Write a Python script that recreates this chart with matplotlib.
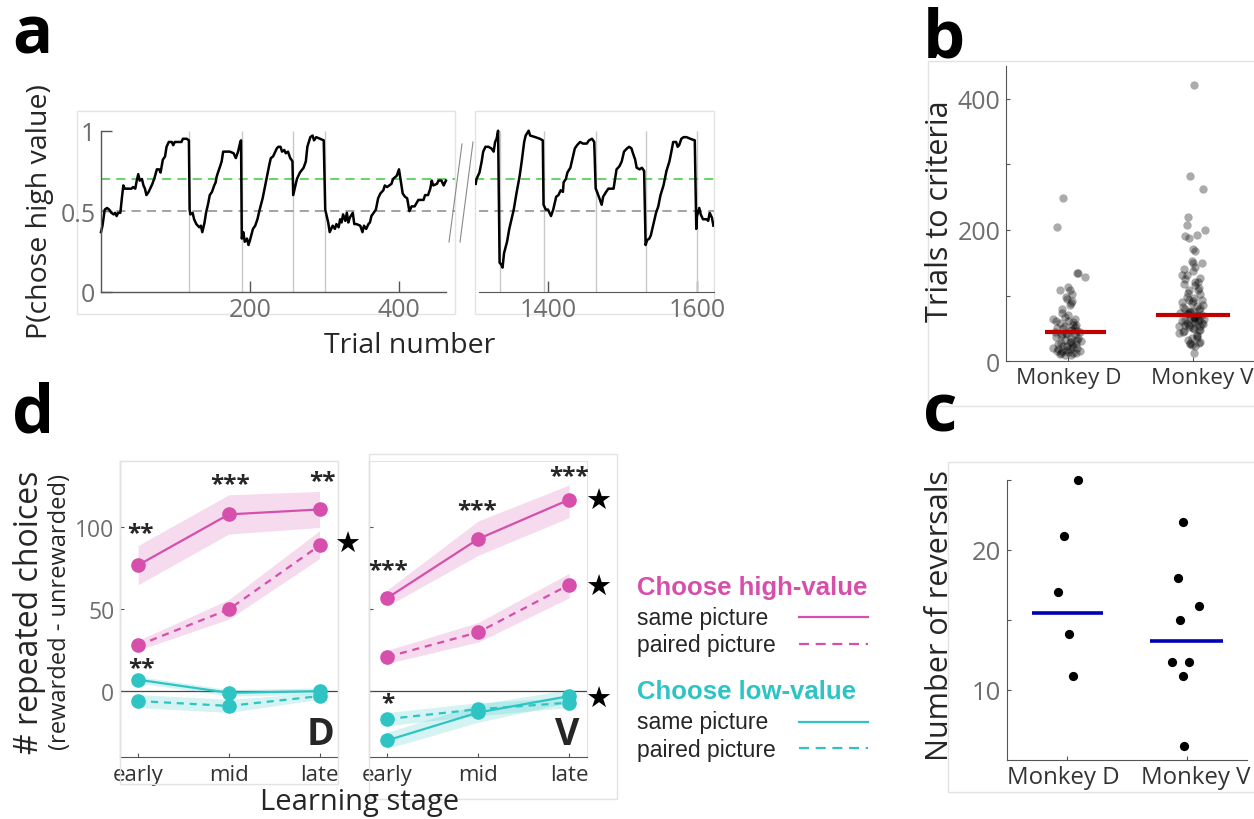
import matplotlib
matplotlib.use("Agg")
import matplotlib.pyplot as plt
import matplotlib.transforms as mtransforms
from matplotlib.patches import Rectangle
from matplotlib.lines import Line2D

plt.rcParams['font.family'] = ['Open Sans', 'DejaVu Sans']

W, H = 1254, 820
fig = plt.figure(figsize=(W / 100, H / 100), dpi=100)

# ---------------- data ----------------
# panel a: running P(chose high value), early block
early_trial = [0, 2, 5, 8, 11, 14, 17, 19, 21, 23, 26, 28, 30, 32, 41, 43, 46, 48, 50, 52, 55, 57, 59, 61, 64, 66,
               69, 72, 75, 78, 80, 83, 86, 88, 91, 95, 97, 99, 108, 110, 115, 118, 119, 120, 123, 125, 128, 132, 134,
               136, 139, 141, 144, 146, 149, 152, 154, 155, 157, 160, 162, 164, 169, 173, 178, 181, 184, 187, 188,
               189, 191, 193, 196, 198, 200, 204, 207, 210, 213, 217, 220, 223, 226, 228, 231, 234, 236, 238, 241,
               243, 246, 248, 251, 254, 257, 258, 260, 263, 267, 272, 275, 277, 281, 284, 286, 289, 294, 299, 301,
               303, 305, 307, 311, 314, 316, 319, 321, 323, 325, 328, 330, 332, 334, 338, 340, 343, 348, 351, 353,
               356, 359, 361, 363, 366, 369, 372, 375, 379, 381, 384, 387, 390, 392, 397, 400, 402, 405, 408, 411,
               414, 417, 421, 426, 433, 435, 439, 442, 444, 446, 451, 453, 457, 460, 463]
early_p = [0.37, 0.41, 0.51, 0.52, 0.51, 0.49, 0.48, 0.49, 0.47, 0.49, 0.49, 0.58, 0.66, 0.64, 0.64, 0.65, 0.64,
           0.69, 0.73, 0.69, 0.70, 0.66, 0.64, 0.60, 0.62, 0.64, 0.67, 0.71, 0.76, 0.76, 0.74, 0.82, 0.84, 0.90,
           0.93, 0.93, 0.91, 0.93, 0.93, 0.95, 0.95, 0.94, 0.51, 0.48, 0.49, 0.45, 0.42, 0.40, 0.41, 0.37, 0.43,
           0.49, 0.55, 0.60, 0.62, 0.66, 0.68, 0.71, 0.74, 0.78, 0.81, 0.87, 0.87, 0.87, 0.86, 0.83, 0.87, 0.93,
           0.94, 0.33, 0.37, 0.31, 0.33, 0.29, 0.32, 0.39, 0.41, 0.45, 0.51, 0.58, 0.65, 0.72, 0.79, 0.83, 0.84,
           0.87, 0.89, 0.90, 0.90, 0.87, 0.88, 0.86, 0.87, 0.83, 0.81, 0.60, 0.64, 0.70, 0.74, 0.77, 0.81, 0.90,
           0.96, 0.97, 0.94, 0.96, 0.95, 0.94, 0.51, 0.47, 0.43, 0.37, 0.41, 0.39, 0.42, 0.40, 0.45, 0.43, 0.48,
           0.44, 0.49, 0.43, 0.46, 0.49, 0.42, 0.42, 0.41, 0.37, 0.41, 0.39, 0.42, 0.43, 0.47, 0.49, 0.51, 0.58,
           0.61, 0.63, 0.66, 0.65, 0.66, 0.67, 0.70, 0.72, 0.76, 0.70, 0.61, 0.59, 0.58, 0.50, 0.53, 0.53, 0.57,
           0.57, 0.60, 0.60, 0.64, 0.69, 0.66, 0.67, 0.69, 0.69, 0.66, 0.69]
early_reversals = [118.5, 189, 258, 301]

# panel a: late block
late_trial = [1303, 1304, 1308, 1311, 1313, 1316, 1320, 1324, 1327, 1329, 1331, 1333, 1335, 1337, 1339, 1341, 1345,
              1348, 1351, 1354, 1358, 1362, 1365, 1368, 1370, 1374, 1376, 1383, 1389, 1393, 1394, 1397, 1400, 1404,
              1407, 1411, 1414, 1417, 1420, 1421, 1424, 1426, 1430, 1433, 1436, 1439, 1443, 1447, 1452, 1455, 1459,
              1462, 1464, 1465, 1469, 1472, 1474, 1478, 1481, 1488, 1490, 1492, 1496, 1499, 1502, 1506, 1509, 1512,
              1514, 1517, 1519, 1523, 1526, 1529, 1531, 1533, 1536, 1538, 1541, 1545, 1548, 1551, 1555, 1559, 1563,
              1566, 1568, 1572, 1574, 1576, 1579, 1582, 1586, 1591, 1597, 1599, 1600, 1603, 1605, 1608, 1613, 1615,
              1617, 1620, 1622]
late_p = [0.67, 0.70, 0.74, 0.81, 0.87, 0.90, 0.90, 0.89, 0.87, 0.93, 0.95, 1.00, 0.18, 0.17, 0.15, 0.24, 0.31,
          0.39, 0.45, 0.51, 0.62, 0.72, 0.82, 0.93, 0.97, 1.00, 0.97, 0.96, 0.95, 0.94, 0.54, 0.51, 0.51, 0.47,
          0.51, 0.59, 0.60, 0.63, 0.62, 0.68, 0.70, 0.74, 0.77, 0.83, 0.89, 0.91, 0.93, 0.92, 0.92, 0.94, 0.95,
          0.93, 0.64, 0.63, 0.58, 0.54, 0.59, 0.62, 0.64, 0.64, 0.70, 0.76, 0.78, 0.81, 0.87, 0.89, 0.90, 0.89,
          0.86, 0.82, 0.77, 0.76, 0.77, 0.75, 0.29, 0.32, 0.33, 0.35, 0.41, 0.49, 0.53, 0.60, 0.66, 0.75, 0.81,
          0.88, 0.93, 0.93, 0.90, 0.91, 0.95, 0.96, 0.96, 0.95, 0.94, 0.39, 0.47, 0.52, 0.48, 0.45, 0.45, 0.44,
          0.49, 0.46, 0.41]
late_reversals = [1335, 1394, 1464, 1531, 1600]
criterion = 0.7
chance = 0.5

# panel b: trials to criterion per block
monkeys = ['Monkey D', 'Monkey V']
ttc_D = [248, 205, 134, 134, 129, 108, 113, 108, 98, 92, 85, 80, 74, 71, 64, 65, 58, 61, 53, 56, 51, 48, 46, 45,
         43, 41, 36, 33, 32, 28, 25, 23, 15, 15, 18, 13, 10, 14, 19, 20, 62, 55, 50, 47, 44, 40, 38, 35, 30, 27,
         22, 17, 12, 11, 16, 24, 29, 37, 52, 68, 88, 95, 102, 60, 42, 26, 21, 31, 9, 12]
jit_D = [-0.04, -0.09, 0.07, 0.08, 0.13, -0.07, 0.00, 0.01, -0.02, 0.03, 0.01, -0.05, -0.05, 0.00, -0.12, 0.05,
         -0.07, 0.00, -0.03, 0.04, -0.09, 0.02, 0.07, 0.09, -0.02, -0.01, 0.02, -0.03, 0.07, -0.06, 0.03, -0.01,
         -0.09, -0.05, 0.01, 0.04, -0.03, 0.00, -0.08, 0.07, -0.10, 0.06, -0.04, 0.03, -0.11, 0.05, -0.06, 0.08,
         0.02, -0.08, 0.04, -0.02, 0.06, -0.07, 0.09, -0.04, 0.01, -0.10, 0.05, -0.03, 0.02, -0.01, 0.03, 0.04,
         -0.05, 0.06, -0.12, 0.10, 0.02, -0.06]
ttc_V = [420, 282, 262, 220, 208, 200, 190, 187, 192, 171, 168, 153, 150, 149, 140, 137, 132, 126, 127, 117, 116,
         109, 108, 102, 94, 94, 90, 88, 84, 79, 76, 73, 74, 69, 64, 65, 62, 59, 56, 54, 53, 49, 46, 43, 40, 36,
         28, 28, 23, 13, 112, 98, 86, 82, 78, 72, 70, 67, 63, 60, 57, 52, 48, 44, 38, 33, 30, 26, 58, 66, 61, 71,
         75, 81, 92, 104, 121, 143, 47, 55, 68, 64, 51, 35, 25, 58, 77, 96, 120, 131]
jit_V = [0.01, -0.02, 0.08, -0.04, -0.05, 0.10, -0.06, -0.03, 0.03, 0.00, 0.02, -0.01, 0.00, 0.07, -0.07, 0.00,
         -0.09, -0.06, 0.06, -0.07, 0.02, -0.03, 0.04, 0.06, -0.03, 0.07, -0.09, -0.01, 0.03, -0.06, 0.00, -0.10,
         -0.04, 0.04, -0.02, 0.09, -0.09, 0.02, -0.03, 0.06, -0.11, 0.01, -0.07, -0.11, 0.03, -0.01, -0.02, 0.05,
         0.02, 0.01, 0.05, -0.05, 0.08, -0.08, 0.05, -0.05, 0.07, 0.01, -0.06, 0.04, 0.08, -0.03, 0.05, -0.08,
         0.03, -0.04, 0.06, -0.02, -0.05, 0.02, 0.01, 0.03, -0.02, 0.06, 0.00, -0.04, 0.04, 0.02, 0.06, -0.06,
         0.00, 0.05, 0.00, 0.03, -0.01, 0.07, -0.02, 0.01, 0.02, -0.05]
ttc_median = [45, 71]

# panel c: number of reversals per session
rev_D = [25, 21, 17, 14, 11]
rev_D_x = [1.09, 0.98, 0.93, 1.02, 1.05]
rev_V = [22, 18, 16, 15, 12, 12, 11, 6]
rev_V_x = [1.97, 1.93, 2.10, 1.94, 1.88, 2.02, 1.97, 1.98]
rev_line = [15.5, 13.5]

# panel d: repeated choices by learning stage
stages = ['early', 'mid', 'late']
D_high_same = [77, 108, 111]
D_high_same_lo = [65, 96, 100]
D_high_same_hi = [89, 120, 122]
D_high_paired = [28, 50, 89]
D_high_paired_lo = [25, 44, 81]
D_high_paired_hi = [31, 56, 98]
D_low_same = [7, -1, 0]
D_low_same_lo = [5, -3, -2]
D_low_same_hi = [9, 1, 2]
D_low_paired = [-6, -9, -3]
D_low_paired_lo = [-10, -13, -5]
D_low_paired_hi = [-2, -5, -1]

V_high_same = [57, 93, 117]
V_high_same_lo = [52, 83, 106]
V_high_same_hi = [62, 104, 126]
V_high_paired = [21, 36, 65]
V_high_paired_lo = [17, 30, 57]
V_high_paired_hi = [25, 42, 72]
V_low_same = [-30, -13, -3]
V_low_same_lo = [-35, -19, -7]
V_low_same_hi = [-25, -8, 1]
V_low_paired = [-17, -11, -7]
V_low_paired_lo = [-21, -15, -10]
V_low_paired_hi = [-13, -7, -4]

# ---------------- helpers ----------------
GRID = '#e3e3e3'
SPINE = '#555555'
TICKC = '#6e6e6e'
DARK = '#262626'
MAG = '#d64fab'
CYA = '#2ec4c4'


def rect(l, t, r, b):
    return [l / W, 1 - b / H, (r - l) / W, (b - t) / H]


def ftext(x, y, s, **kw):
    return fig.text(x / W, 1 - y / H, s, **kw)


def frame(l, t, r, b, color=GRID):
    fig.add_artist(Rectangle((l / W, 1 - b / H), (r - l) / W, (b - t) / H, transform=fig.transFigure,
                             fill=False, ec=color, lw=1.0))


def fline(x0, y0, x1, y1, **kw):
    fig.add_artist(Line2D([x0 / W, x1 / W], [1 - y0 / H, 1 - y1 / H], transform=fig.transFigure, **kw))


def nudge_xlabel(ax, idx, dx_px):
    lab = ax.get_xticklabels()[idx]
    lab.set_transform(lab.get_transform() + mtransforms.ScaledTranslation(dx_px / 100, 0, fig.dpi_scale_trans))


# ---------------- panel a ----------------
axa1 = fig.add_axes(rect(77, 112, 455, 315))
axa1.set_xlim(-32.2, 475.2)
axa1.set_ylim(-0.1385, 1.1224)
for s in ['top', 'right']:
    axa1.spines[s].set_visible(False)
axa1.spines['left'].set_position(('data', 0))
axa1.spines['left'].set_bounds(0, 1)
axa1.spines['bottom'].set_position(('data', 0))
axa1.spines['bottom'].set_bounds(0, 463)
for s in ['left', 'bottom']:
    axa1.spines[s].set_color(SPINE)
    axa1.spines[s].set_linewidth(1.0)
axa1.add_patch(Rectangle((0, 0), 1, 1, transform=axa1.transAxes, fill=False, ec=GRID, lw=1.0, clip_on=False))
axa1.vlines(early_reversals, 0, 1, color='#c8c8c8', lw=1.0)
axa1.plot([0, 475], [criterion, criterion], color='#3ec93e', lw=1.1, dashes=(6, 4))
axa1.plot([0, 475], [chance, chance], color='#8a8a8a', lw=1.1, dashes=(6, 4))
axa1.plot(early_trial, early_p, color='black', lw=1.8)
axa1.set_yticks([0, 0.5, 1])
axa1.set_yticklabels(['0', '0.5', '1'])
axa1.set_xticks([200, 400])
axa1.tick_params(direction='in', length=8, width=1, color=SPINE, labelcolor=TICKC, labelsize=18, pad=4)

axa2 = fig.add_axes(rect(475, 112, 714, 315))
axa2.set_xlim(1302.0, 1622.8)
axa2.set_ylim(-0.1385, 1.1224)
for s in ['top', 'right', 'left']:
    axa2.spines[s].set_visible(False)
axa2.spines['bottom'].set_position(('data', 0))
axa2.spines['bottom'].set_bounds(1307.4, 1622.8)
axa2.spines['bottom'].set_color(SPINE)
axa2.add_patch(Rectangle((0, 0), 1, 1, transform=axa2.transAxes, fill=False, ec=GRID, lw=1.0, clip_on=False))
axa2.vlines(late_reversals, 0, 1, color='#c8c8c8', lw=1.0)
axa2.plot([1302, 1623], [criterion, criterion], color='#3ec93e', lw=1.1, dashes=(6, 4))
axa2.plot([1307, 1623], [chance, chance], color='#8a8a8a', lw=1.1, dashes=(6, 4))
axa2.plot(late_trial, late_p, color='black', lw=1.8)
axa2.set_yticks([])
axa2.set_xticks([1400, 1600])
axa2.tick_params(direction='in', length=8, width=1, color=SPINE, labelcolor=TICKC, labelsize=18, pad=4)

# axis-break marks
fline(449, 243, 462, 145, color='#8a8a8a', lw=0.8)
fline(460, 243, 473, 143, color='#8a8a8a', lw=0.8)

ftext(40, 212, 'P(chose high value)', rotation=90, ha='center', va='center', fontsize=20.5, color=DARK)
ftext(410, 346, 'Trial number', ha='center', va='center', fontsize=20.5, color=DARK)

# ---------------- panel b ----------------
frame(928, 62, 1262, 407)
axb = fig.add_axes(rect(1006, 66.7, 1254, 362.3))
axb.set_xlim(0.5, 2.49)
axb.set_ylim(0, 450)
for s in ['top', 'right']:
    axb.spines[s].set_visible(False)
for s in ['left', 'bottom']:
    axb.spines[s].set_color(SPINE)
axb.scatter([1 + j for j in jit_D], ttc_D, s=36, color='black', alpha=0.33, lw=0)
axb.scatter([2 + j for j in jit_V], ttc_V, s=36, color='black', alpha=0.33, lw=0)
axb.plot([0.81, 1.30], [ttc_median[0]] * 2, color='#c00000', lw=3, solid_capstyle='butt')
axb.plot([1.70, 2.30], [ttc_median[1]] * 2, color='#c00000', lw=3, solid_capstyle='butt')
axb.set_yticks([0, 100, 200, 300, 400])
axb.set_yticklabels(['0', '', '200', '', '400'])
axb.set_xticks([1, 2])
axb.set_xticklabels(monkeys)
axb.tick_params(direction='in', length=3, color=SPINE, labelcolor=TICKC, labelsize=18, pad=4)
axb.tick_params(axis='x', labelcolor='#333333', labelsize=16.2)
nudge_xlabel(axb, 1, 9)
ftext(940, 211, 'Trials to criteria', rotation=90, ha='center', va='center', fontsize=22, color=DARK)

# ---------------- panel c ----------------
frame(948, 463, 1262, 793)
axc = fig.add_axes(rect(1006.7, 481, 1246.7, 760.7))
axc.set_xlim(0.5, 2.5)
axc.set_ylim(5, 25)
for s in ['top', 'right']:
    axc.spines[s].set_visible(False)
for s in ['left', 'bottom']:
    axc.spines[s].set_color(SPINE)
axc.scatter(rev_D_x, rev_D, s=44, color='black', lw=0, zorder=3, clip_on=False)
axc.scatter(rev_V_x, rev_V, s=44, color='black', lw=0, zorder=3, clip_on=False)
axc.plot([0.71, 1.305], [rev_line[0]] * 2, color='#0000b4', lw=2.6, solid_capstyle='butt')
axc.plot([1.69, 2.30], [rev_line[1]] * 2, color='#0000b4', lw=2.6, solid_capstyle='butt')
axc.set_yticks([10, 15, 20, 25])
axc.set_yticklabels(['10', '', '20', ''])
axc.set_xticks([1, 2])
axc.set_xticklabels(monkeys)
axc.tick_params(direction='in', length=3, color=SPINE, labelcolor=TICKC, labelsize=18.5, pad=4)
axc.tick_params(axis='x', labelcolor='#333333', labelsize=17.3)
nudge_xlabel(axc, 0, -3)
nudge_xlabel(axc, 1, 9)
ftext(940, 616, 'Number of reversals', rotation=90, ha='center', va='center', fontsize=22, color=DARK)

# ---------------- panel d ----------------
frame(120, 462, 337.7, 785)
frame(369.3, 455, 616.7, 800)


def stage_axes(l, r, labels_on):
    ax = fig.add_axes(rect(l, 462, r, 758))
    ax.set_xlim(0.8, 3.2)
    ax.set_ylim(-40.2, 140.6)
    ax.spines['top'].set_color(GRID)
    ax.spines['right'].set_color(GRID)
    for s in ['left', 'bottom']:
        ax.spines[s].set_color(SPINE)
    ax.axhline(0, color='#444444', lw=0.9, zorder=1)
    ax.set_xticks([1, 2, 3])
    ax.set_xticklabels(stages)
    ax.set_yticks([0, 50, 100])
    if not labels_on:
        ax.set_yticklabels([])
    ax.tick_params(direction='in', length=3, color=SPINE, labelcolor=TICKC, labelsize=16.5, pad=4)
    ax.tick_params(axis='x', labelcolor='#333333', labelsize=16, pad=5)
    return ax


def draw_series(ax, y, lo, hi, color, dashed):
    x = [1, 2, 3]
    ax.fill_between(x, lo, hi, color=color, alpha=0.2, lw=0, zorder=2)
    kw = dict(dashes=(3.2, 2.6)) if dashed else {}
    ax.plot(x, y, color=color, lw=1.6, marker='o', ms=9.5, zorder=3, **kw)


axD = stage_axes(120, 337.7, True)
draw_series(axD, D_high_same, D_high_same_lo, D_high_same_hi, MAG, False)
draw_series(axD, D_high_paired, D_high_paired_lo, D_high_paired_hi, MAG, True)
draw_series(axD, D_low_same, D_low_same_lo, D_low_same_hi, CYA, False)
draw_series(axD, D_low_paired, D_low_paired_lo, D_low_paired_hi, CYA, True)

axV = stage_axes(369.3, 587.3, False)
draw_series(axV, V_high_same, V_high_same_lo, V_high_same_hi, MAG, False)
draw_series(axV, V_high_paired, V_high_paired_lo, V_high_paired_hi, MAG, True)
draw_series(axV, V_low_same, V_low_same_lo, V_low_same_hi, CYA, False)
draw_series(axV, V_low_paired, V_low_paired_lo, V_low_paired_hi, CYA, True)

# significance marks
sig = dict(ha='center', va='center', fontsize=17.5, fontweight='bold', color=DARK)
ftext(141, 534, '**', **sig)
ftext(230, 485, '***', **sig)
ftext(322, 482, '**', **sig)
ftext(141.5, 669, '**', **sig)
ftext(388, 571, '***', **sig)
ftext(477, 511, '***', **sig)
ftext(569, 477, '***', **sig)
ftext(388, 704, '*', **sig)

star = dict(ha='center', va='center', fontsize=21, color='black', family=['DejaVu Sans'])
ftext(346.7, 545, '\u2605', **star)
ftext(597.8, 501.7, '\u2605', **star)
ftext(597.8, 588.3, '\u2605', **star)
ftext(597.8, 700, '\u2605', **star)

ftext(320, 735, 'D', ha='center', va='center', fontsize=27, fontweight='bold', color=DARK)
ftext(567.5, 735, 'V', ha='center', va='center', fontsize=27, fontweight='bold', color=DARK)

ftext(29, 612, '# repeated choices', rotation=90, ha='center', va='center', fontsize=23, color=DARK)
ftext(60, 612, '(rewarded - unrewarded)', rotation=90, ha='center', va='center', fontsize=17, color=DARK)
ftext(360, 803, 'Learning stage', ha='center', va='center', fontsize=21, color=DARK)

# legend
lg_bold = dict(family=['Liberation Sans'], fontweight='bold', fontsize=18.5, va='baseline', ha='left')
lg_reg = dict(family=['Liberation Sans'], fontsize=16.5, va='baseline', ha='left', color=DARK)
ftext(636.7, 595, 'Choose high-value', color=MAG, **lg_bold)
ftext(636.7, 625, 'same picture', **lg_reg)
ftext(636.7, 651.7, 'paired picture', **lg_reg)
ftext(636.7, 699.3, 'Choose low-value', color=CYA, **lg_bold)
ftext(636.7, 729.3, 'same picture', **lg_reg)
ftext(636.7, 756.7, 'paired picture', **lg_reg)
fline(799, 617.7, 868, 617.7, color=MAG, lw=1.6)
fline(799, 644.7, 868, 644.7, color=MAG, lw=1.6, dashes=(4.5, 3))
fline(799, 722.5, 868, 722.5, color=CYA, lw=1.6)
fline(799, 749, 868, 749, color=CYA, lw=1.6, dashes=(4.5, 3))

# panel letters
letter = dict(fontsize=48, fontweight='bold', color='black', va='baseline', ha='left')
ftext(12, 53, 'a', **letter)
ftext(923, 57, 'b', **letter)
ftext(923, 432, 'c', **letter)
ftext(12, 433, 'd', **letter)

fig.savefig('out.png', dpi=100)
